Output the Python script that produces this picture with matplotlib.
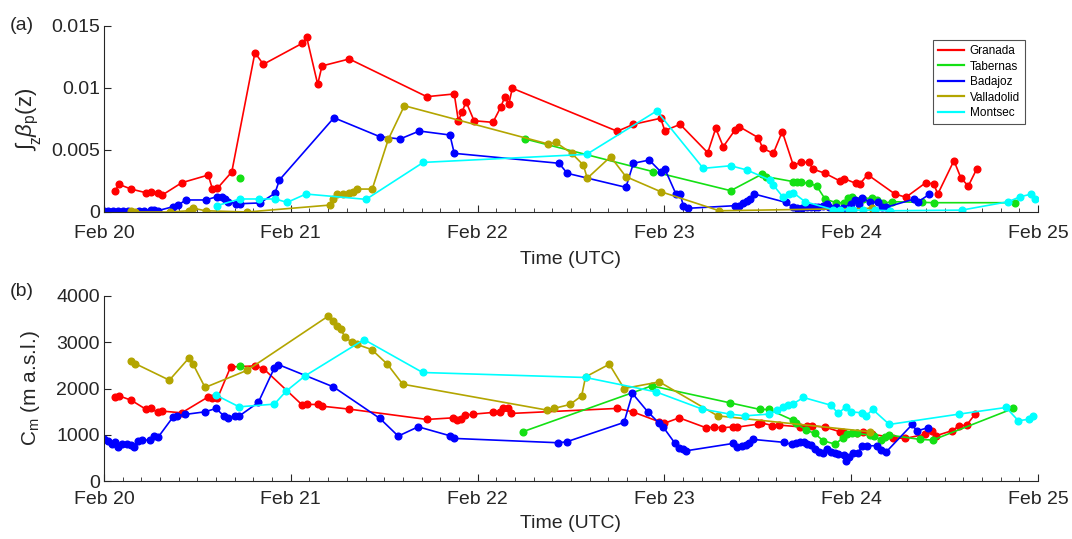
import numpy as np
import matplotlib
matplotlib.use("Agg")
import matplotlib.pyplot as plt
import matplotlib.ticker as ticker

plt.rcParams["font.family"] = ["Liberation Sans", "DejaVu Sans"]
plt.rcParams["mathtext.fontset"] = "custom"
plt.rcParams["mathtext.rm"] = "Liberation Sans"
plt.rcParams["mathtext.it"] = "Liberation Sans:italic"

# time axis: days since Feb 20 00 UTC
DAY_TICKS = [0, 1, 2, 3, 4, 5]
DAY_LABELS = ["Feb 20", "Feb 21", "Feb 22", "Feb 23", "Feb 24", "Feb 25"]
STATIONS = ["Granada", "Tabernas", "Badajoz", "Valladolid", "Montsec"]
COLORS = ["#ff0000", "#14e014", "#0000ff", "#b3a500", "#00ffff"]

# ---- panel (a): integrated backscatter ----
granada_ta = [0.059, 0.080, 0.145, 0.223, 0.250, 0.289, 0.312, 0.416, 0.558, 0.580,
              0.607, 0.684, 0.808, 0.853, 1.062, 1.085, 1.144, 1.167, 1.313, 1.728,
              1.875, 1.897, 1.918, 1.938, 1.981, 2.082, 2.125, 2.145, 2.167, 2.186,
              2.748, 2.834, 2.980, 3.002, 3.084, 3.232, 3.275, 3.315, 3.378, 3.401,
              3.503, 3.526, 3.583, 3.631, 3.690, 3.731, 3.774, 3.794, 3.860, 3.940,
              3.963, 4.024, 4.047, 4.088, 4.234, 4.293, 4.399, 4.443, 4.463, 4.550,
              4.588, 4.627, 4.672]
granada_a = [0.00169, 0.00223, 0.00185, 0.00156, 0.00164, 0.00151, 0.00137, 0.00236, 0.00298, 0.00188,
             0.00191, 0.00323, 0.01285, 0.01191, 0.01361, 0.01409, 0.01030, 0.01178, 0.01234, 0.00930,
             0.00952, 0.00736, 0.00809, 0.00890, 0.00736, 0.00723, 0.00849, 0.00927, 0.00871, 0.00998,
             0.00651, 0.00707, 0.00756, 0.00656, 0.00707, 0.00478, 0.00675, 0.00527, 0.00661, 0.00688,
             0.00599, 0.00514, 0.00473, 0.00648, 0.00377, 0.00401, 0.00401, 0.00347, 0.00312, 0.00250,
             0.00269, 0.00231, 0.00228, 0.00301, 0.00145, 0.00119, 0.00236, 0.00226, 0.00143, 0.00414,
             0.00272, 0.00210, 0.00347]

tabernas_ta = [0.728, np.nan, 2.254, 2.941, 3.355, 3.521, 3.544, 3.690, 3.712, 3.732,
               3.774, 3.815, 3.860, 3.919, 3.963, 3.985, 4.006, 4.065, 4.110, 4.140,
               4.172, 4.217, 4.377, 4.445, 4.877]
tabernas_a = [0.00274, np.nan, 0.00589, 0.00325, 0.00172, 0.00304, 0.00285, 0.00245, 0.00245, 0.00240,
              0.00231, 0.00210, 0.00105, 0.00075, 0.00075, 0.00115, 0.00123, 0.00105, 0.00115, 0.00095,
              0.00070, 0.00083, 0.00078, 0.00075, 0.00075]

badajoz_ta = [0.000, 0.023, 0.050, 0.077, 0.104, 0.130, 0.189, 0.214, 0.250, 0.268,
              0.291, 0.371, 0.398, 0.437, 0.544, 0.603, 0.630, 0.648, 0.666, 0.707,
              0.730, 0.835, 0.915, 0.939, 1.231, 1.477, 1.585, 1.688, 1.852, 1.875,
              2.436, 2.480, 2.794, 2.834, 2.919, 2.980, 3.003, 3.062, 3.084, 3.102,
              3.128, 3.378, 3.401, 3.422, 3.444, 3.458, 3.481, 3.649, 3.690, 3.708,
              3.735, 3.762, 3.783, 3.806, 3.824, 3.847, 3.869, 3.879, 3.919, 3.958,
              3.999, 4.020, 4.042, 4.058, 4.102, 4.142, 4.165, 4.187, 4.338, 4.360,
              4.418]
badajoz_a = [0.00012, 0.00012, 0.00012, 0.00010, 0.00012, 0.00012, 0.00010, 0.00012, 0.00015, 0.00015,
             0.00012, 0.00043, 0.00056, 0.00097, 0.00097, 0.00123, 0.00118, 0.00105, 0.00083, 0.00067,
             0.00067, 0.00073, 0.00151, 0.00258, 0.00760, 0.00607, 0.00589, 0.00653, 0.00621, 0.00473,
             0.00393, 0.00312, 0.00199, 0.00393, 0.00419, 0.00325, 0.00344, 0.00145, 0.00145, 0.00048,
             0.00030, 0.00051, 0.00051, 0.00070, 0.00089, 0.00102, 0.00145, 0.00078, 0.00038, 0.00030,
             0.00035, 0.00038, 0.00043, 0.00043, 0.00043, 0.00048, 0.00067, 0.00040, 0.00040, 0.00035,
             0.00065, 0.00097, 0.00065, 0.00110, 0.00083, 0.00078, 0.00043, 0.00038, 0.00105, 0.00083,
             0.00143]

valladolid_ta = [0.143, 0.166, 0.353, 0.455, 0.478, 0.544, 0.767, 1.210, 1.228, 1.249,
                 1.281, 1.313, 1.335, 1.356, 1.436, 1.522, 1.608, 2.379, 2.418, 2.504,
                 2.566, 2.587, 2.712, 2.794, 2.980, 3.294, 4.110]
valladolid_a = [0.00006, 0.00000, 0.00000, 0.00010, 0.00030, 0.00010, 0.00000, 0.00056, 0.00105, 0.00143,
                0.00143, 0.00151, 0.00165, 0.00185, 0.00185, 0.00586, 0.00857, 0.00548, 0.00562, 0.00473,
                0.00379, 0.00272, 0.00446, 0.00285, 0.00164, 0.00010, 0.00030]

montsec_ta = [0.603, 0.728, 0.830, 0.915, 0.981, 1.081, 1.403, 1.709, 2.584, 2.959,
              3.208, 3.355, 3.441, 3.565, 3.583, 3.633, 3.669, 3.690, 3.753, 3.901,
              3.940, 3.990, 4.012, 4.065, 4.128, 4.208, 4.591, 4.841, 4.904, 4.961,
              4.984]
montsec_a = [0.00051, 0.00105, 0.00105, 0.00105, 0.00078, 0.00145, 0.00102, 0.00400, 0.00465, 0.00815,
             0.00352, 0.00373, 0.00339, 0.00258, 0.00218, 0.00123, 0.00143, 0.00156, 0.00083, 0.00020,
             0.00015, 0.00020, 0.00015, 0.00015, 0.00015, 0.00010, 0.00015, 0.00083, 0.00123, 0.00143,
             0.00105]

# ---- panel (b): centre of mass height (m a.s.l.) ----
granada_tb = [0.059, 0.080, 0.145, 0.223, 0.250, 0.289, 0.312, 0.416, 0.558, 0.580,
              0.607, 0.678, 0.808, 0.853, 1.062, 1.085, 1.144, 1.167, 1.313, 1.728,
              1.870, 1.892, 1.910, 1.933, 1.977, 2.082, 2.120, 2.138, 2.161, 2.181,
              2.745, 2.830, 2.973, 2.998, 3.079, 3.223, 3.266, 3.310, 3.369, 3.390,
              3.503, 3.516, 3.578, 3.615, 3.726, 3.762, 3.792, 3.860, 3.940, 3.958,
              4.029, 4.065, 4.110, 4.226, 4.288, 4.395, 4.434, 4.454, 4.538, 4.579,
              4.618, 4.663]
granada_b = [1819, 1841, 1748, 1554, 1569, 1482, 1511, 1474, 1819, 1785,
             1785, 2467, 2488, 2432, 1640, 1655, 1655, 1618, 1554, 1331,
             1366, 1320, 1350, 1420, 1446, 1482, 1482, 1582, 1575, 1461,
             1569, 1496, 1280, 1245, 1366, 1151, 1165, 1151, 1172, 1165,
             1230, 1260, 1200, 1208, 1172, 1194, 1194, 1165, 1064, 1064,
             1043, 1064, 1014, 935, 921, 1008, 1086, 978, 1086, 1194,
             1208, 1446]

tabernas_tb = [0.728, np.nan, 2.241, 2.932, 3.351, 3.512, 3.560, 3.687, 3.705, 3.760,
               3.804, 3.850, 3.913, 3.954, 3.976, 4.006, 4.033, 4.101, 4.123, 4.159,
               4.180, 4.204, 4.368, 4.436, 4.868]
tabernas_b = [2497, np.nan, 1064, 2057, 1690, 1547, 1547, 1316, 1245, 1101,
              1029, 870, 798, 921, 1008, 1029, 1029, 993, 975, 885,
              950, 993, 900, 885, 1569]

badajoz_tb = [0.000, 0.021, 0.045, 0.059, 0.077, 0.098, 0.121, 0.143, 0.162, 0.180,
              0.205, 0.246, 0.268, 0.289, 0.368, 0.393, 0.434, 0.541, 0.600, 0.642,
              0.665, 0.701, 0.723, 0.826, 0.912, 0.933, 1.228, 1.477, 1.575, 1.682,
              1.852, 1.873, 2.432, 2.477, 2.784, 2.829, 2.911, 2.973, 2.995, 3.057,
              3.080, 3.101, 3.118, 3.369, 3.390, 3.413, 3.435, 3.453, 3.473, 3.642,
              3.681, 3.705, 3.726, 3.748, 3.765, 3.783, 3.806, 3.830, 3.851, 3.869,
              3.890, 3.913, 3.931, 3.959, 3.972, 3.990, 4.011, 4.038, 4.056, 4.083,
              4.136, 4.159, 4.185, 4.327, 4.351, 4.409]
badajoz_b = [906, 870, 798, 848, 740, 798, 798, 777, 740, 870,
             885, 885, 978, 943, 1375, 1403, 1439, 1496, 1569, 1403,
             1366, 1410, 1403, 1698, 2445, 2518, 2035, 1353, 971, 1172,
             978, 921, 827, 848, 1267, 1893, 1496, 1245, 1159, 813,
             719, 684, 654, 813, 740, 760, 777, 830, 900, 835,
             791, 820, 848, 835, 800, 777, 684, 632, 611, 700,
             632, 597, 585, 561, 438, 511, 597, 597, 762, 762,
             762, 669, 619, 1223, 1079, 1151]

valladolid_tb = [0.143, 0.166, 0.350, 0.455, 0.475, 0.541, 0.767, 1.201, 1.224, 1.245,
                 1.267, 1.290, 1.325, 1.352, 1.433, 1.517, 1.599, 2.373, 2.409, 2.495,
                 2.557, 2.578, 2.705, 2.784, 2.973, 3.285, 4.101]
valladolid_b = [2590, 2540, 2180, 2661, 2540, 2022, 2395, 3567, 3459, 3351,
                3280, 3114, 3006, 2956, 2842, 2525, 2093, 1532, 1569, 1655,
                1841, 2251, 2525, 2000, 2143, 1409, 1064]

montsec_tb = [0.600, 0.723, 0.912, 0.975, 1.076, 1.392, 1.706, 2.578, 2.955, 3.203,
              3.351, 3.432, 3.560, 3.605, 3.637, 3.662, 3.687, 3.744, 3.890, 3.931,
              3.971, 3.997, 4.056, 4.078, 4.115, 4.204, 4.577, 4.829, 4.895, 4.954,
              4.975]
montsec_b = [1856, 1604, 1662, 1942, 2272, 3058, 2346, 2238, 1927, 1554,
             1446, 1409, 1446, 1532, 1590, 1640, 1662, 1806, 1640, 1461,
             1604, 1496, 1474, 1403, 1547, 1223, 1446, 1590, 1302, 1338,
             1403]

series_a = [(granada_ta, granada_a), (tabernas_ta, tabernas_a), (badajoz_ta, badajoz_a),
            (valladolid_ta, valladolid_a), (montsec_ta, montsec_a)]
series_b = [(granada_tb, granada_b), (tabernas_tb, tabernas_b), (badajoz_tb, badajoz_b),
            (valladolid_tb, valladolid_b), (montsec_tb, montsec_b)]

AX_COLOR = "#262626"
W, H = 1072, 539
FS = 14

fig = plt.figure(figsize=(W / 100, H / 100), dpi=100)
ax_a = fig.add_axes([104 / W, 1 - 212 / H, 934 / W, 186 / H])
ax_b = fig.add_axes([104 / W, 1 - 481 / H, 934 / W, 185 / H])


def style(ax, xpad, xlabelpad):
    ax.set_xlim(0, 5)
    ax.set_xticks(DAY_TICKS)
    ax.set_xticklabels(DAY_LABELS)
    ax.xaxis.set_minor_locator(ticker.MultipleLocator(0.1))
    for s in ["top", "right"]:
        ax.spines[s].set_visible(False)
    for s in ["left", "bottom"]:
        ax.spines[s].set_color(AX_COLOR)
        ax.spines[s].set_linewidth(0.8)
    ax.tick_params(which="major", direction="in", length=5, width=0.8,
                   colors=AX_COLOR, labelsize=FS)
    ax.tick_params(axis="x", which="major", pad=xpad)
    ax.tick_params(axis="y", which="major", pad=3)
    ax.tick_params(which="minor", direction="in", length=3, width=0.6, colors=AX_COLOR)
    ax.tick_params(axis="y", which="minor", left=False)
    ax.set_xlabel("Time (UTC)", fontsize=FS, color=AX_COLOR, labelpad=xlabelpad)


for (t, v), c, name in zip(series_a, COLORS, STATIONS):
    ax_a.plot(t, v, "-o", color=c, lw=1.2, ms=4.8, label=name)
for (t, v), c, name in zip(series_b, COLORS, STATIONS):
    ax_b.plot(t, v, "-o", color=c, lw=1.2, ms=4.8)

style(ax_a, 9, 7)
style(ax_b, 7.5, 4.5)

ax_a.set_ylim(0, 0.015)
ax_a.set_yticks([0, 0.005, 0.01, 0.015])
ax_a.set_yticklabels(["0", "0.005", "0.01", "0.015"])
ax_a.set_ylabel(r"$\int_{\rm z}\beta_{\rm p}{\rm (z)}$", fontsize=16, color=AX_COLOR, labelpad=5)

ax_b.set_ylim(0, 4000)
ax_b.set_yticks([0, 1000, 2000, 3000, 4000])
ax_b.set_ylabel(r"C$_{\rm m}$ (m a.s.l.)", fontsize=15, color=AX_COLOR, labelpad=10)

handles = [plt.Line2D([], [], color=c, lw=1.6) for c in COLORS]
leg = ax_a.legend(handles, STATIONS, loc="upper right", bbox_to_anchor=(0.992, 0.955),
                  fontsize=8.5, frameon=True, fancybox=False, borderpad=0.4,
                  handlelength=2.2, handletextpad=0.5, labelspacing=0.3)
leg.get_frame().set_edgecolor("#262626")
leg.get_frame().set_linewidth(0.8)

fig.text(10 / W, 1 - 25 / H, "(a)", fontsize=FS, color=AX_COLOR, va="center")
fig.text(10 / W, 1 - 291 / H, "(b)", fontsize=FS, color=AX_COLOR, va="center")

fig.savefig("out.png", dpi=100)
